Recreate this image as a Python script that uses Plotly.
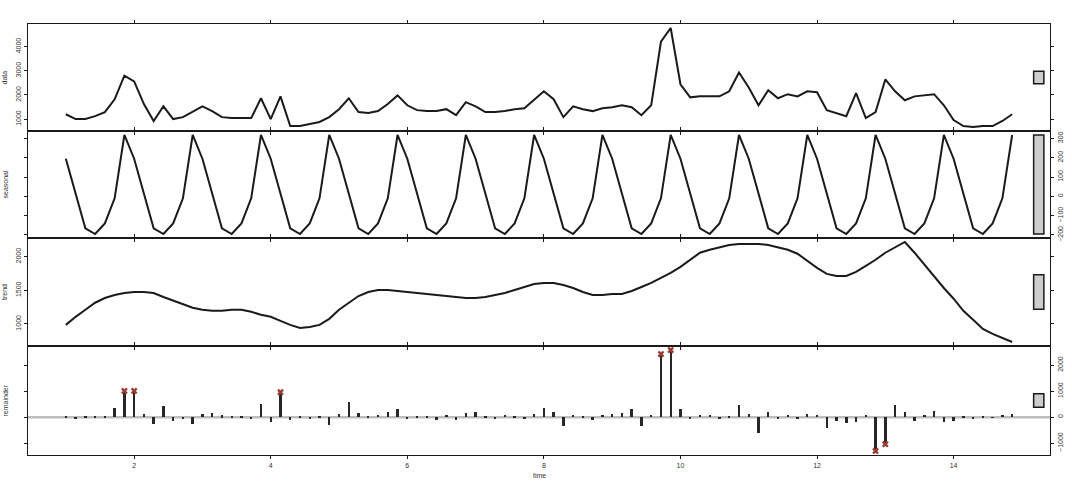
import plotly.graph_objects as go

frequency = 7
start = 1

data = [1200, 1000, 1000, 1120, 1290, 1820, 2800, 2560, 1620, 920,
        1530, 1000, 1080, 1290, 1530, 1330, 1080, 1040, 1040, 1040,
        1860, 1000, 1940, 710, 710, 800, 880, 1080, 1410, 1860,
        1290, 1250, 1330, 1620, 1980, 1570, 1370, 1330, 1330, 1410,
        1160, 1700, 1530, 1290, 1290, 1330, 1410, 1450, 1820, 2150,
        1820, 1080, 1530, 1410, 1330, 1450, 1490, 1570, 1490, 1160,
        1570, 4200, 4770, 2440, 1900, 1940, 1940, 1940, 2150, 2930,
        2310, 1570, 2190, 1860, 2030, 1940, 2150, 2110, 1370, 1250,
        1120, 2070, 1040, 1290, 2640, 2150, 1780, 1940, 1980, 2030,
        1570, 960, 710, 670, 710, 710, 920, 1200]

seasonal = [195, 15, -165, -195, -140, -10, 318,
            195, 15, -165, -195, -140, -10, 318,
            195, 15, -165, -195, -140, -10, 318,
            195, 15, -165, -195, -140, -10, 318,
            195, 15, -165, -195, -140, -10, 318,
            195, 15, -165, -195, -140, -10, 318,
            195, 15, -165, -195, -140, -10, 318,
            195, 15, -165, -195, -140, -10, 318,
            195, 15, -165, -195, -140, -10, 318,
            195, 15, -165, -195, -140, -10, 318,
            195, 15, -165, -195, -140, -10, 318,
            195, 15, -165, -195, -140, -10, 318,
            195, 15, -165, -195, -140, -10, 318,
            195, 15, -165, -195, -140, -10, 318]

trend = [985, 1105, 1210, 1315, 1385, 1430, 1460, 1475, 1475, 1460,
         1400, 1345, 1285, 1240, 1210, 1195, 1195, 1210, 1210, 1180,
         1135, 1105, 1045, 985, 940, 955, 985, 1075, 1210, 1315,
         1415, 1475, 1505, 1505, 1490, 1475, 1460, 1445, 1430, 1415,
         1400, 1385, 1385, 1400, 1430, 1460, 1505, 1550, 1595, 1610,
         1610, 1580, 1535, 1475, 1430, 1430, 1445, 1445, 1490, 1550,
         1610, 1685, 1760, 1850, 1955, 2060, 2105, 2145, 2175, 2190,
         2190, 2190, 2175, 2145, 2105, 2045, 1940, 1835, 1745, 1715,
         1715, 1775, 1865, 1955, 2060, 2145, 2220, 2060, 1880, 1715,
         1535, 1375, 1195, 1060, 925, 850, 790, 730]

remainder = [40, -50, 20, 40, 40, 355, 1010, 1010, 140, -280,
             440, -130, -90, -250, 130, 150, 75, 40, 10, -60,
             510, -180, 960, -100, 60, -80, 40, -300, 120, 600,
             150, 60, 80, 200, 300, -60, 60, 40, -120, 80,
             -100, 150, 180, 60, -60, 80, 40, -80, 120, 350,
             200, -350, 100, 60, -100, 80, 120, 150, 300, -350,
             100, 2425, 2580, 330, -60, 100, 80, -60, 60, 450,
             120, -600, 180, -60, 80, -80, 120, 80, -400, -150,
             -220, -200, 80, -1300, -1040, 450, 200, -150, 100, 250,
             -200, -150, 60, -40, 40, -20, 80, 120]

outlier_idx = [6, 7, 22, 61, 62, 83, 84]

x_tickvals = [2, 4, 6, 8, 10, 12, 14]
x_ticktext = ["2", "4", "6", "8", "10", "12", "14"]

panel_names = ["data", "seasonal", "trend", "remainder"]
y_tickvals = [[1000, 2000, 3000, 4000],
              [-200, -100, 0, 100, 200, 300],
              [1000, 1500, 2000],
              [-1000, 0, 1000, 2000]]

time = [start + i / frequency for i in range(len(data))]
series = [data, seasonal, trend, remainder]

FONT = "Liberation Sans"
INK = "#1a1a1a"

fig = go.Figure()

for k in range(3):
    fig.add_trace(go.Scatter(x=time, y=series[k], mode="lines",
                             line=dict(color=INK, width=2),
                             xaxis="x" if k == 0 else f"x{k+1}",
                             yaxis="y" if k == 0 else f"y{k+1}",
                             showlegend=False, hoverinfo="skip"))

fig.add_trace(go.Bar(x=time, y=remainder, width=0.035,
                     marker=dict(color="#262626", line=dict(width=0)),
                     xaxis="x4", yaxis="y4", showlegend=False))
fig.add_trace(go.Scatter(x=[time[i] for i in outlier_idx],
                         y=[remainder[i] for i in outlier_idx],
                         mode="markers",
                         marker=dict(symbol="x", size=6, color="#9b3b33",
                                     line=dict(width=0)),
                         xaxis="x4", yaxis="y4", showlegend=False))

tmin, tmax = min(time), max(time)
tpad = 0.04 * (tmax - tmin)
xrange = [tmin - tpad, tmax + tpad]

bounds = [1.0, 0.7517, 0.5035, 0.2529, 0.0]
bar_size = max(seasonal) - min(seasonal)

layout = dict(width=1072, height=486,
              margin=dict(l=28, r=22, t=24, b=31, autoexpand=False),
              paper_bgcolor="white", plot_bgcolor="white",
              font=dict(family=FONT, size=7, color="#333"),
              bargap=0, shapes=[], annotations=[])

for k in range(4):
    s = series[k]
    lo, hi = min(s), max(s)
    pad = 0.04 * (hi - lo)
    yr = [lo - pad, hi + pad]
    xa = "xaxis" if k == 0 else f"xaxis{k+1}"
    ya = "yaxis" if k == 0 else f"yaxis{k+1}"
    yref = "y" if k == 0 else f"y{k+1}"
    layout[xa] = dict(domain=[0, 1], range=xrange, anchor=yref, automargin=False,
                      showgrid=False, zeroline=False,
                      showline=True, linecolor=INK, linewidth=1.2, mirror="allticks",
                      ticks="outside", ticklen=3, tickcolor=INK, tickwidth=1,
                      tickvals=x_tickvals, ticktext=x_ticktext,
                      showticklabels=(k == 3),
                      tickfont=dict(size=7, color="#333"))
    if k > 0:
        layout[xa]["matches"] = "x"
    layout[ya] = dict(domain=[bounds[k + 1], bounds[k]], range=yr,
                      anchor="x" if k == 0 else f"x{k+1}", automargin=False,
                      side="left" if k % 2 == 0 else "right",
                      showgrid=False, zeroline=False,
                      showline=True, linecolor=INK, linewidth=1.2, mirror="allticks",
                      ticks="outside", ticklen=3, tickcolor=INK, tickwidth=1,
                      tickvals=y_tickvals[k], tickangle=-90,
                      tickfont=dict(size=7, color="#333"))
    mid = (yr[0] + yr[1]) / 2
    layout["shapes"].append(dict(type="rect", xref="paper", yref=yref,
                                 x0=0.984, x1=0.994,
                                 y0=mid - bar_size / 2, y1=mid + bar_size / 2,
                                 fillcolor="#cdcdcd", line=dict(color=INK, width=1.5)))
    layout["annotations"].append(dict(text=panel_names[k], xref="paper", yref="paper",
                                      x=-0.0225, y=(bounds[k] + bounds[k + 1]) / 2,
                                      textangle=-90, showarrow=False,
                                      xanchor="center", yanchor="middle",
                                      font=dict(size=7, color="#333")))

layout["shapes"].append(dict(type="line", xref="x4", yref="y4",
                             x0=xrange[0], x1=xrange[1], y0=0, y1=0,
                             line=dict(color="#bdbdbd", width=2.5), layer="below"))
layout["annotations"].append(dict(text="time", xref="paper", yref="paper",
                                  x=0.5, y=-0.047, showarrow=False,
                                  xanchor="center", yanchor="middle",
                                  font=dict(size=7, color="#333")))

fig.update_layout(**layout)
fig.write_html("out.html",
               config={"displayModeBar": False},
               post_script="document.body.style.margin='0px';document.body.style.overflow='hidden';")
